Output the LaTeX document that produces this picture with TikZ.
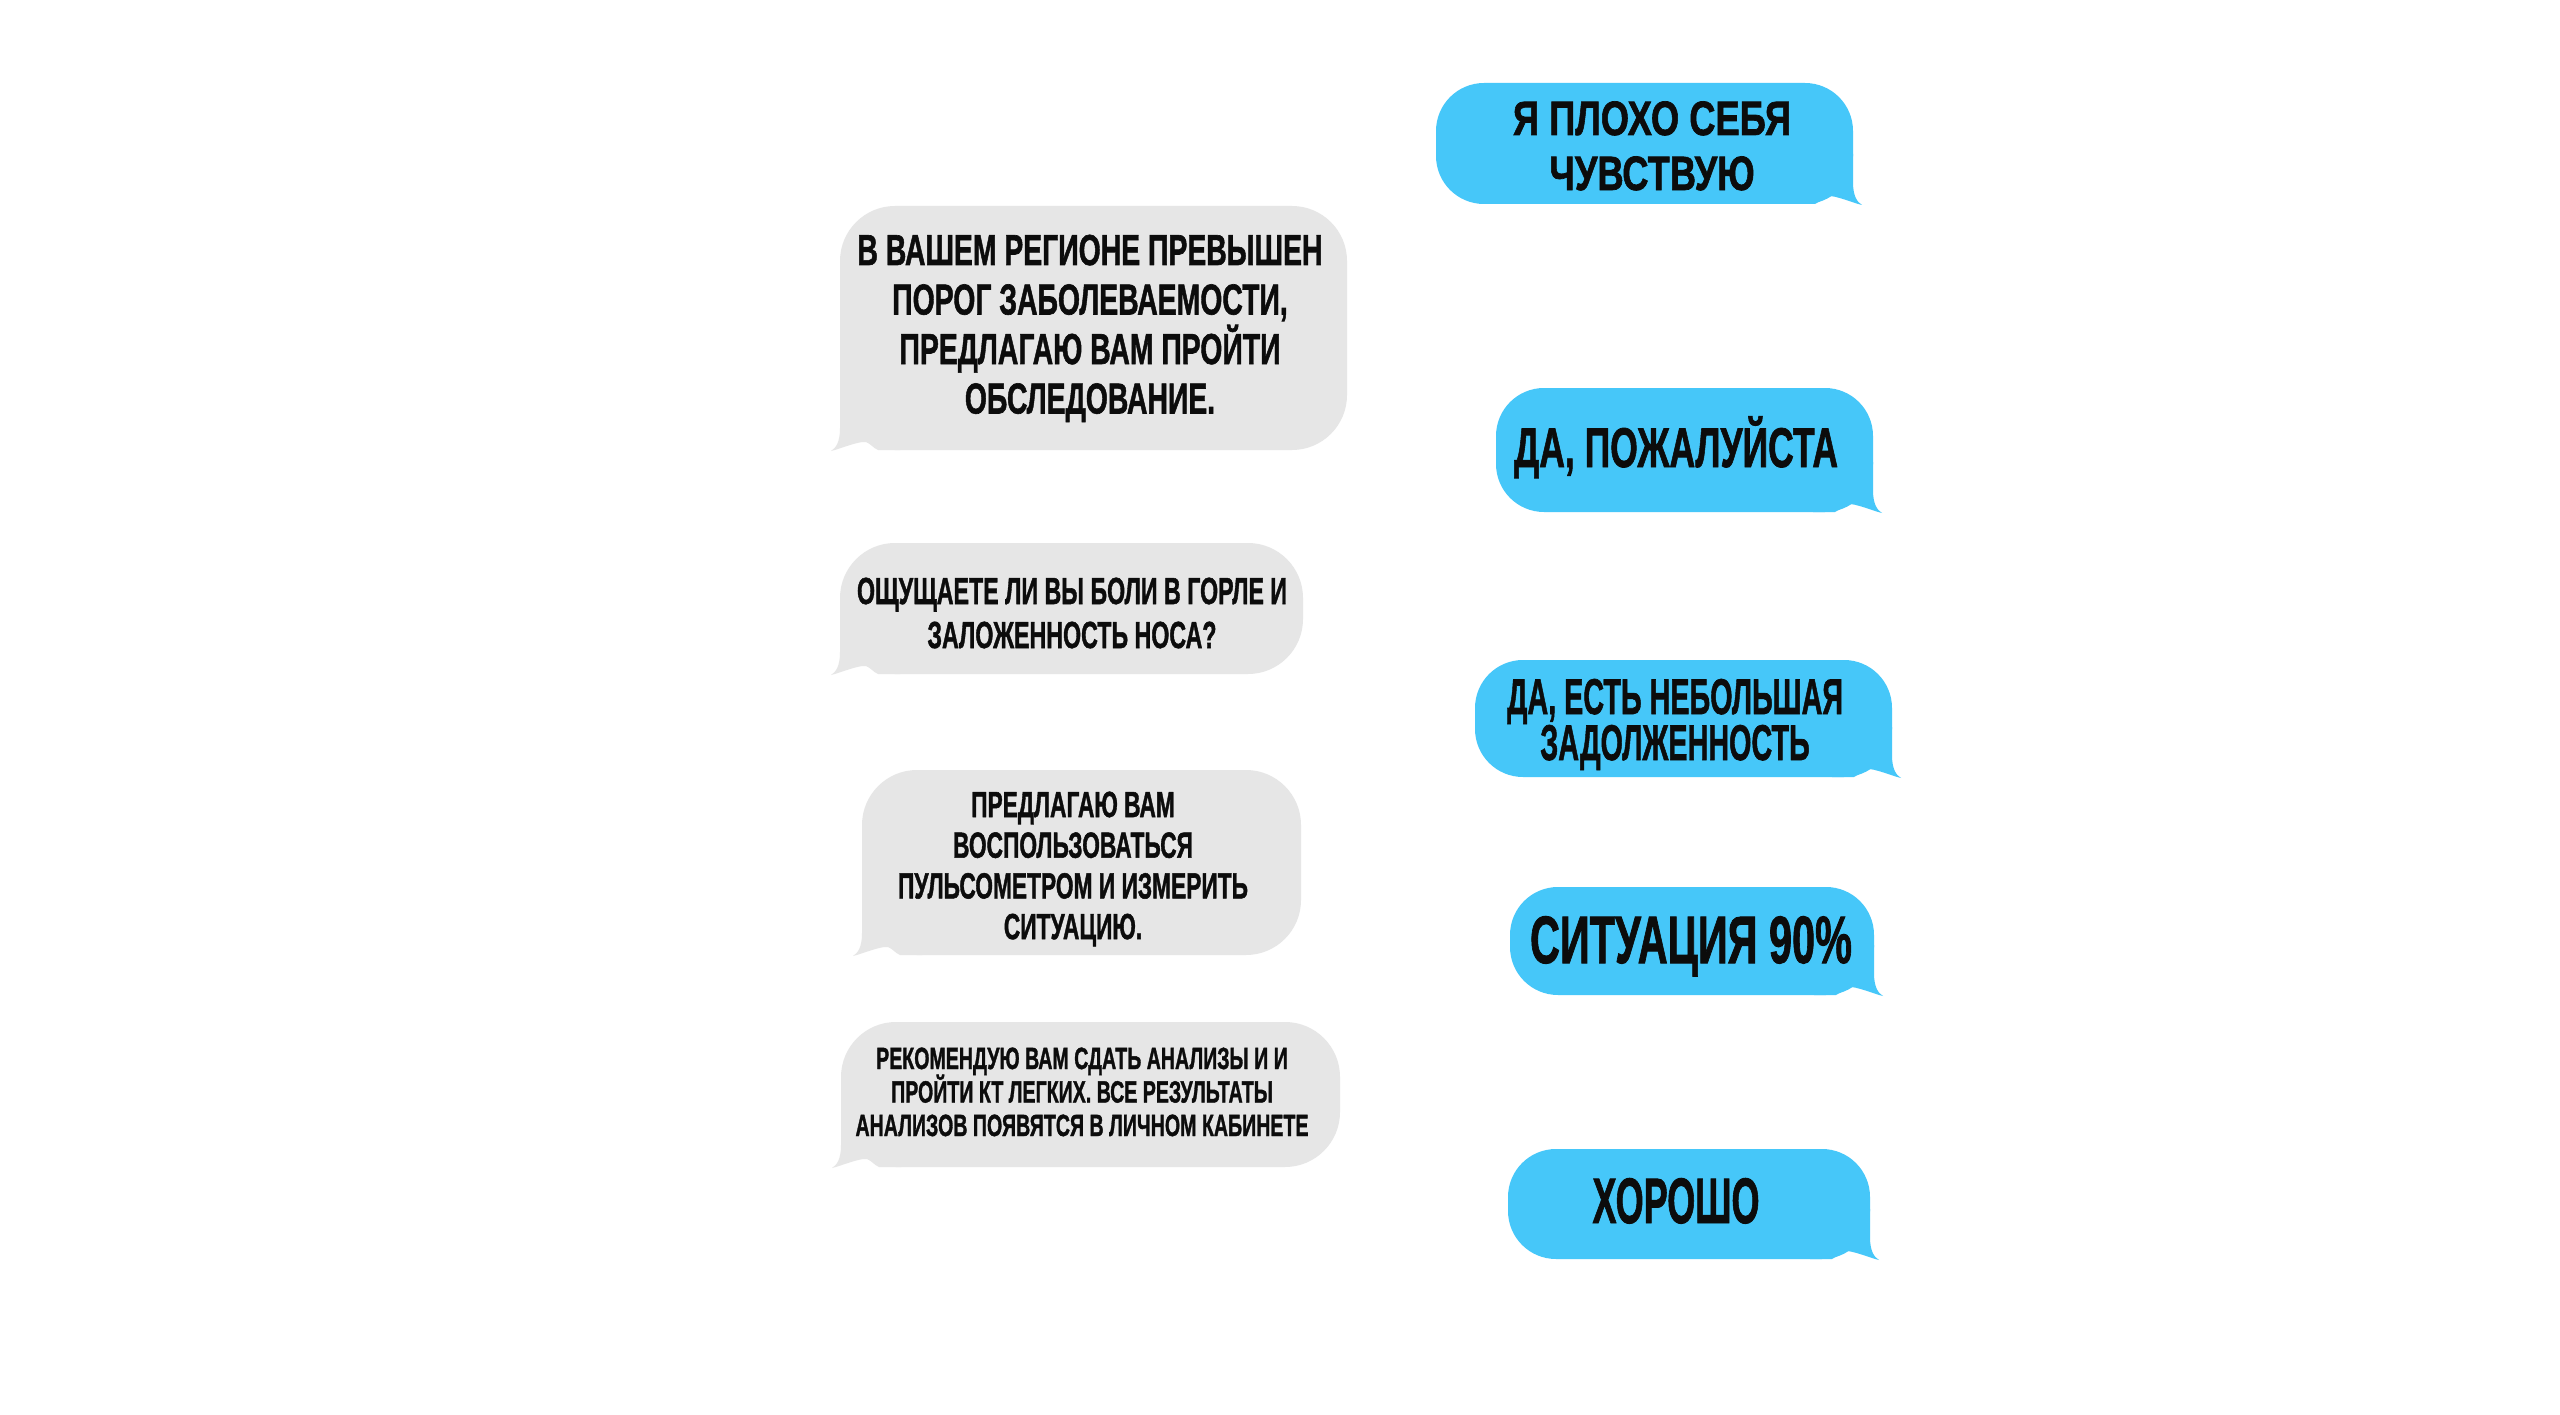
\documentclass[tikz,border=0pt]{standalone}
\usepackage{fontspec}
\usepackage{graphicx}
\newfontfamily\cyrbold{Liberation Sans}[BoldFeatures={FakeBold=1.5}]
\usetikzlibrary{calc}
\definecolor{bluec}{RGB}{70,199,249}
\definecolor{grayc}{RGB}{230,230,230}
\definecolor{inkc}{RGB}{12,12,12}
\tikzset{
  msgtext/.style={anchor=base, inner sep=0pt, font=\cyrbold\bfseries, text=inkc},
  bluebody/.style={fill=bluec, rounded corners=48pt},
  graybody/.style={fill=grayc, rounded corners=55pt},
}
\newcommand\tailpath{(0,-50) -- (0,-22) .. controls (0,-8) and (4,-2) .. (9,1) .. controls (0,-1) and (-18,-9) .. (-26,-8) .. controls (-30,-7) and (-33,-2) .. (-38,0) -- (-60,0) -- (-60,-50) -- cycle}
% right (blue) bubble: x1,y1,x2,y2
\newcommand\rbubble[4]{%
  \fill[bluebody] (#1,#2) rectangle (#3,#4);
  \begin{scope}[shift={(#3,#4)}]\fill[bluec] \tailpath;\end{scope}}
% left (gray) bubble: x1,y1,x2,y2
\newcommand\lbubble[4]{%
  \fill[graybody] (#1,#2) rectangle (#3,#4);
  \begin{scope}[shift={(#1,#4)},xscale=-1]\fill[grayc] \tailpath;\end{scope}}
% text: name, cx, first baseline, width, size, pitch, lines
\newcommand\msg[7]{%
  \node[msgtext] (#1) at (#2,#3) {\resizebox{#4pt}{\height}{\fontsize{#5pt}{#6pt}\selectfont\lineskiplimit=-\maxdimen\vtop{\halign{\hfil##\hfil\cr#7\crcr}}}};}
\begin{document}
\begin{tikzpicture}[x=1pt,y=-1pt]
\useasboundingbox (0,0) rectangle (2560,1415);
\fill[white] (0,0) rectangle (2560,1415);
% blue (right) bubbles
\rbubble{1436}{83}{1853}{204}
\rbubble{1496}{388}{1873}{512}
\rbubble{1475}{660}{1892}{777}
\rbubble{1510}{887}{1874}{995}
\rbubble{1508}{1149}{1870}{1259}
% gray (left) bubbles
\lbubble{840}{206}{1347}{450}
\lbubble{840}{543}{1303}{674}
\lbubble{862}{770}{1301}{955}
\lbubble{841}{1022}{1340}{1167}
% texts
\msg{t1}{1652}{135}{278}{48.2}{55}{Я ПЛОХО СЕБЯ\cr ЧУВСТВУЮ}
\msg{t2}{1676}{467}{324}{55.9}{55}{ДА, ПОЖАЛУЙСТА}
\msg{g1}{1090}{265}{465}{43.3}{49.5}{В ВАШЕМ РЕГИОНЕ ПРЕВЫШЕН\cr ПОРОГ ЗАБОЛЕВАЕМОСТИ,\cr ПРЕДЛАГАЮ ВАМ ПРОЙТИ\cr ОБСЛЕДОВАНИЕ.}
\msg{g2}{1072}{604}{430}{37.7}{44}{ОЩУЩАЕТЕ ЛИ ВЫ БОЛИ В ГОРЛЕ И\cr ЗАЛОЖЕННОСТЬ НОСА?}
\msg{t3}{1675}{714}{336}{50.3}{46}{ДА, ЕСТЬ НЕБОЛЬШАЯ\cr ЗАДОЛЖЕННОСТЬ}
\msg{g3}{1073}{817}{350}{36.3}{40.7}{ПРЕДЛАГАЮ ВАМ\cr ВОСПОЛЬЗОВАТЬСЯ\cr ПУЛЬСОМЕТРОМ И ИЗМЕРИТЬ\cr СИТУАЦИЮ.}
\msg{t4}{1691}{963}{322}{67}{60}{СИТУАЦИЯ 90\%}
\msg{g4}{1082}{1069}{453}{30.7}{33.5}{РЕКОМЕНДУЮ ВАМ СДАТЬ АНАЛИЗЫ И И\cr ПРОЙТИ КТ ЛЕГКИХ. ВСЕ РЕЗУЛЬТАТЫ\cr АНАЛИЗОВ ПОЯВЯТСЯ В ЛИЧНОМ КАБИНЕТЕ}
\msg{t5}{1676}{1223}{167}{64.2}{60}{ХОРОШО}
\end{tikzpicture}
\end{document}
